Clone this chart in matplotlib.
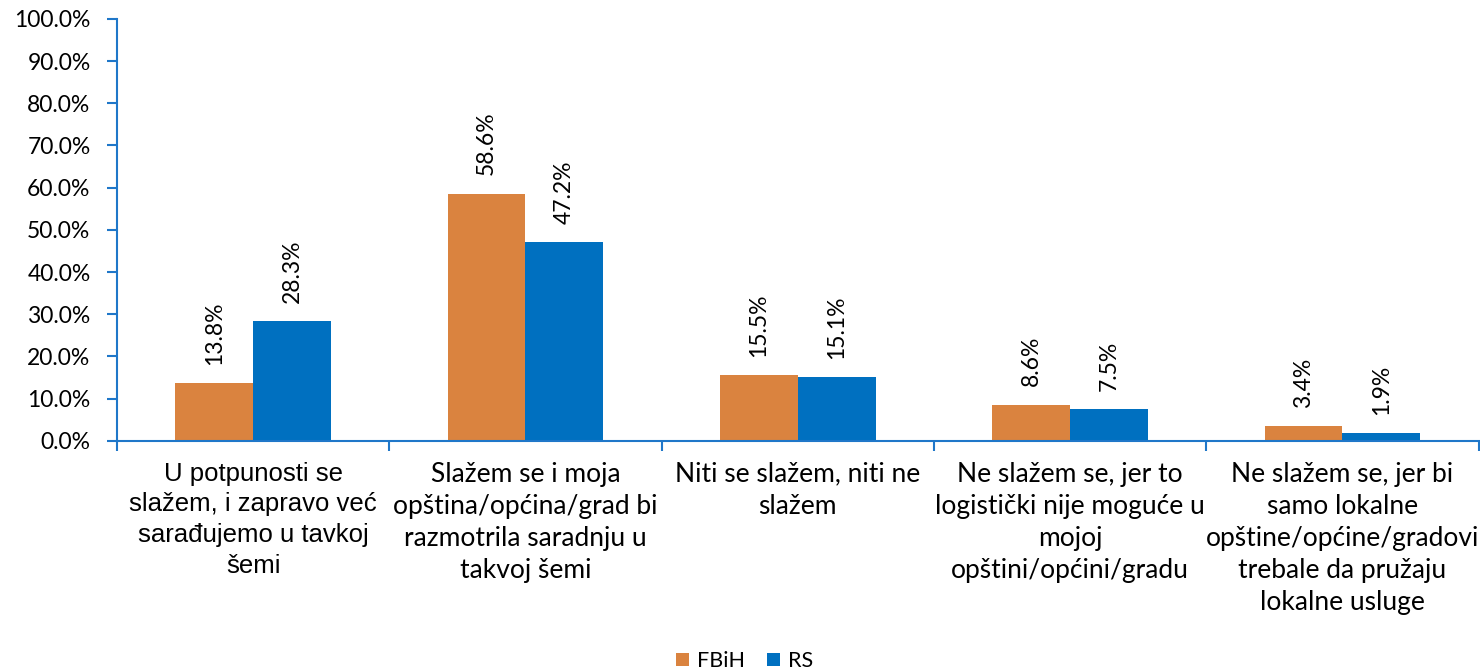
import matplotlib.pyplot as plt
import numpy as np
from matplotlib.ticker import FuncFormatter

# data
categories = [
    'U potpunosti se\nslažem, i zapravo već\nsarađujemo u tavkoj\nšemi',
    'Slažem se i moja\nopština/općina/grad bi\nrazmotrila saradnju u\ntakvoj šemi',
    'Niti se slažem, niti ne\nslažem',
    'Ne slažem se, jer to\nlogistički nije moguće u\nmojoj\nopštini/općini/gradu',
    'Ne slažem se, jer bi\nsamo lokalne\nopštine/općine/gradovi\ntrebale da pružaju\nlokalne usluge',
]
series_names = ['FBiH', 'RS']
fbih = [13.8, 58.6, 15.5, 8.6, 3.4]
rs = [28.3, 47.2, 15.1, 7.5, 1.9]
yticks = [0, 10, 20, 30, 40, 50, 60, 70, 80, 90, 100]

orange = '#DA833F'
blue = '#0070C0'
axis_blue = '#1F77C9'
body_font = ['Lato', 'DejaVu Sans']
arial = ['Liberation Sans', 'DejaVu Sans']

fig = plt.figure(figsize=(14.8, 6.72), dpi=100)
ax = fig.add_axes([0.079, 0.344, 0.920, 0.628])

x = np.arange(len(categories))
w = 2 / 7
b1 = ax.bar(x - w / 2, fbih, w, color=orange, label=series_names[0])
b2 = ax.bar(x + w / 2, rs, w, color=blue, label=series_names[1])

# rotated value labels above each bar
for bars, vals in [(b1, fbih), (b2, rs)]:
    for rect, v in zip(bars, vals):
        ax.annotate(f'{v:.1f}%', (rect.get_x() + rect.get_width() / 2, v),
                    xytext=(0, 13), textcoords='offset points',
                    rotation=90, ha='center', va='bottom',
                    fontsize=16.5, family=body_font)

ax.set_xlim(-0.5, len(categories) - 0.5)
ax.set_ylim(0, 100)
ax.set_yticks(yticks)
ax.yaxis.set_major_formatter(FuncFormatter(lambda v, p: f'{v:.1f}%'))

ax.set_xticks(x)
ax.set_xticklabels(categories, fontsize=19, linespacing=1.35)
ax.set_xticks(np.arange(len(categories) + 1) - 0.5, minor=True)
ax.tick_params(axis='x', which='major', length=0, pad=15)
ax.tick_params(axis='x', which='minor', length=7, width=1.5, color=axis_blue,
               direction='out')
ax.tick_params(axis='y', length=7, width=1.5, color=axis_blue, direction='out',
               labelsize=16.5, pad=12)
for lab in ax.get_yticklabels():
    lab.set_family(body_font)
for i, lab in enumerate(ax.get_xticklabels()):
    if i == 0:
        lab.set_family(arial)
        lab.set_fontsize(18.5)
    else:
        lab.set_family(body_font)

for s in ['top', 'right']:
    ax.spines[s].set_visible(False)
for s in ['left', 'bottom']:
    ax.spines[s].set_color(axis_blue)
    ax.spines[s].set_linewidth(1.5)

leg = fig.legend(loc='center', bbox_to_anchor=(0.503, 0.016), ncol=2, frameon=False,
                 handlelength=0.6, handleheight=0.6, handletextpad=0.4,
                 columnspacing=1.0, prop={'family': body_font, 'size': 15.5})

fig.savefig('out.png', dpi=100)
